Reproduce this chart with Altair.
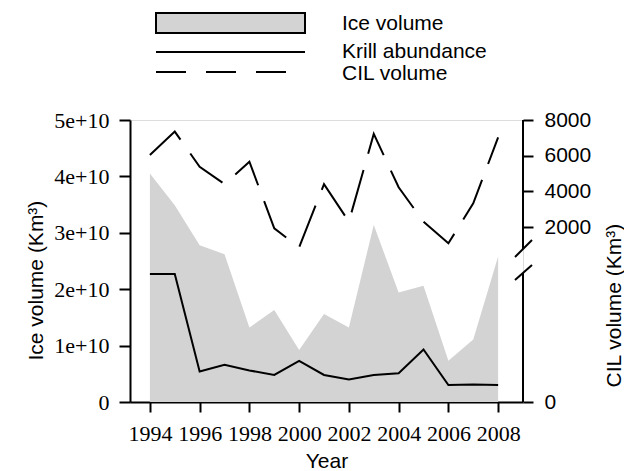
import altair as alt
import pandas as pd

# ---- data ----
years = list(range(1994, 2009))
ice_volume = [4.05e10, 3.49e10, 2.78e10, 2.62e10, 1.32e10, 1.63e10, 0.92e10, 1.56e10,
              1.32e10, 3.14e10, 1.94e10, 2.06e10, 0.73e10, 1.11e10, 2.58e10]
krill_abundance = [2.27e10, 2.27e10, 0.54e10, 0.66e10, 0.56e10, 0.48e10, 0.73e10, 0.48e10,
                   0.40e10, 0.48e10, 0.51e10, 0.93e10, 0.30e10, 0.31e10, 0.30e10]
cil_volume = [6040, 7350, 5380, 4410, 5660, 1930, 870, 4410,
              2300, 7220, 4230, 2300, 1090, 3330, 7030]

year_ticks = [1994, 1996, 1998, 2000, 2002, 2004, 2006, 2008]
ice_ticks = [0, 1e10, 2e10, 3e10, 4e10, 5e10]
cil_ticks = [2000, 4000, 6000, 8000]
legend_labels = ["Ice volume", "Krill abundance", "CIL volume"]

df = pd.DataFrame({"year": years, "ice": ice_volume, "krill": krill_abundance, "cil": cil_volume})

W, H = 393, 282
CIL_FLOOR = -7800  # bottom of the broken right axis (labelled 0)
SANS = "Liberation Sans"
SERIF = "Liberation Serif"

x_enc = alt.X("year:Q",
              scale=alt.Scale(domain=[1993.2, 2009.0], nice=False, zero=False),
              axis=alt.Axis(values=year_ticks, format="d", grid=False,
                            labelFont=SERIF, labelFontSize=22, labelColor="black",
                            labelPadding=11, tickSize=10, tickWidth=2, tickColor="black",
                            domainWidth=2, domainColor="black", labelFlush=False,
                            title="Year", titleFont=SANS, titleFontSize=21,
                            titleFontWeight="normal", titleColor="black",
                            titleY=65, titleBaseline="alphabetic"))

ice_scale = alt.Scale(domain=[0, 5e10], nice=False, zero=True)
left_axis = alt.Axis(orient="left", values=ice_ticks, grid=False,
                     labelExpr="datum.value == 0 ? '0' : format(datum.value / 1e10, 'd') + 'e+10'",
                     labelFont=SERIF, labelFontSize=22, labelColor="black",
                     labelPadding=10, tickSize=11, tickWidth=2, tickColor="black",
                     domainWidth=2, domainColor="black",
                     title="Ice volume (Km³)", titleFont=SANS, titleFontSize=21,
                     titleFontWeight="normal", titleColor="black",
                     titleAngle=270, titleAlign="left", titleBaseline="alphabetic",
                     titleX=-88, titleY=240)

cil_scale = alt.Scale(domain=[CIL_FLOOR, 8000], nice=False, zero=False)
right_axis = alt.Axis(orient="right", values=[CIL_FLOOR] + cil_ticks, format="d", grid=False,
                      labelExpr="datum.value < 0 ? '0' : datum.label",
                      labelFont=SANS, labelFontSize=21, labelColor="black",
                      labelPadding=11, tickSize=10, tickWidth=2, tickColor="black",
                      domain=False,
                      title="CIL volume (Km³)", titleFont=SANS, titleFontSize=21,
                      titleFontWeight="normal", titleColor="black",
                      titleAngle=270, titleAlign="left", titleBaseline="alphabetic",
                      titleX=97, titleY=267)

base = alt.Chart(df)
area = base.mark_area(color="#d3d3d3").encode(
    x=x_enc, y=alt.Y("ice:Q", scale=ice_scale, axis=left_axis))
krill = base.mark_line(color="black", strokeWidth=2).encode(
    x=x_enc, y=alt.Y("krill:Q", scale=ice_scale, axis=left_axis))
left_layer = alt.layer(area, krill)

cil = base.mark_line(color="black", strokeWidth=2, strokeDash=[44, 17]).encode(
    x=x_enc, y=alt.Y("cil:Q", scale=cil_scale, axis=right_axis))

one = alt.Chart(pd.DataFrame({"k": [0]}))
decor = []
# broken right axis line
decor.append(one.mark_rule(color="black", strokeWidth=2).encode(
    x=alt.value(W), y=alt.value(0), y2=alt.value(129)))
decor.append(one.mark_rule(color="black", strokeWidth=2).encode(
    x=alt.value(W), y=alt.value(153), y2=alt.value(H)))
decor.append(one.mark_rule(color="black", strokeWidth=2).encode(
    x=alt.value(W - 8), x2=alt.value(W + 9), y=alt.value(137), y2=alt.value(120)))
decor.append(one.mark_rule(color="black", strokeWidth=2).encode(
    x=alt.value(W - 8), x2=alt.value(W + 9), y=alt.value(160), y2=alt.value(145)))
# legend
decor.append(one.mark_rect(fill="#d3d3d3", stroke="black", strokeWidth=2).encode(
    x=alt.value(26), x2=alt.value(175), y=alt.value(-107), y2=alt.value(-87)))
decor.append(one.mark_rule(color="black", strokeWidth=2).encode(
    x=alt.value(26), x2=alt.value(175), y=alt.value(-68)))
decor.append(one.mark_rule(color="black", strokeWidth=2, strokeDash=[30, 20]).encode(
    x=alt.value(26), x2=alt.value(162), y=alt.value(-48)))
for label, yb in zip(legend_labels, [-90, -62, -40]):
    decor.append(one.mark_text(text=label, align="left", baseline="alphabetic",
                               font=SANS, fontSize=21, color="black").encode(
        x=alt.value(212), y=alt.value(yb)))

chart = alt.layer(left_layer, cil, *decor).resolve_scale(y="independent").properties(
    width=W, height=H,
    autosize=alt.AutoSizeParams(type="none"),
    padding={"left": 122, "top": 112, "right": 101, "bottom": 70},
).configure_view(strokeOpacity=0).configure(background="white")

chart.save("out.html", embed_options={"renderer": "svg", "actions": False})
